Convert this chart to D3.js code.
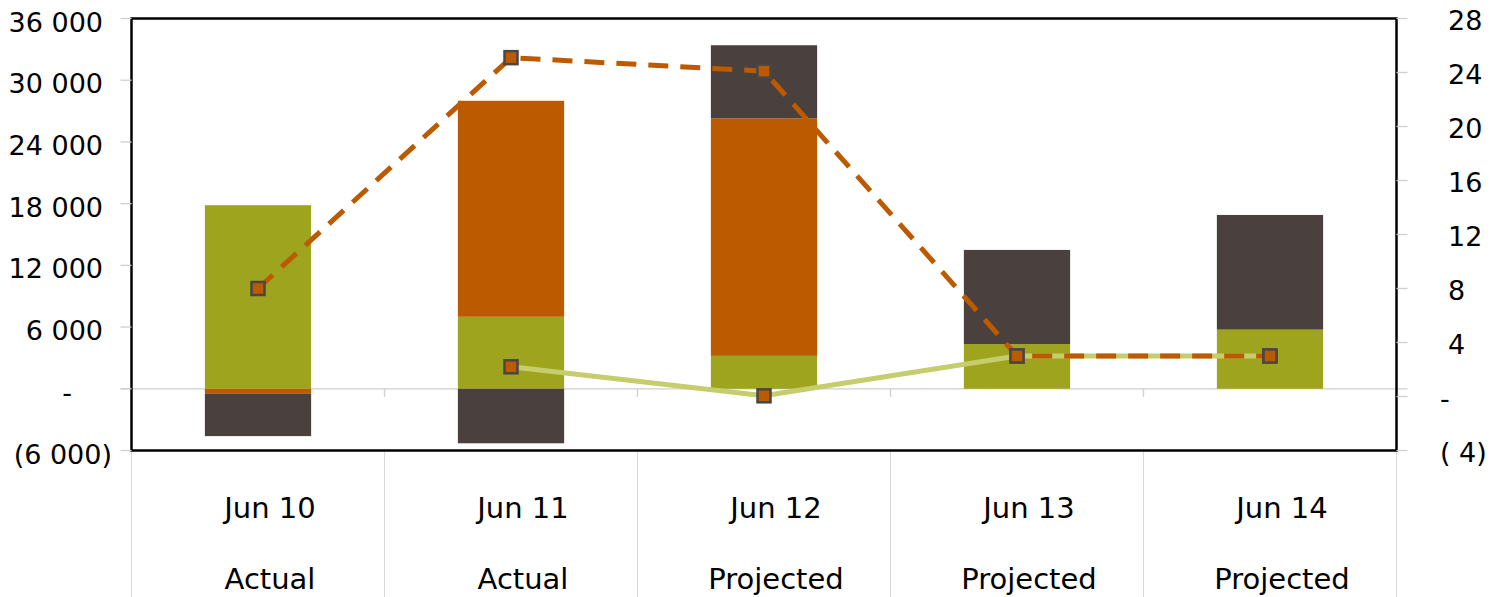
<!DOCTYPE html>
<html>
<head>
<meta charset="utf-8">
<script src="https://cdn.jsdelivr.net/npm/d3@7"></script>
<style>
  html, body { margin: 0; padding: 0; background: #fff; }
  svg { display: block; font-family: "DejaVu Sans", sans-serif; }
</style>
</head>
<body>
<svg id="chart" width="1491" height="597"></svg>
<script>
// ---- data ----
const categories = ["Jun 10", "Jun 11", "Jun 12", "Jun 13", "Jun 14"];
const subLabels = ["Actual", "Actual", "Projected", "Projected", "Projected"];
const greenBar = [17850, 7000, 3200, 4350, 5750];
const orangeBar = [-450, 21000, 23100, 0, 0];
const darkBar = [-4150, -5300, 7100, 9150, 11150];
const orangeLine = [8, 25.1, 24.1, 3.0, 3.0];
const greenLine = [null, 2.2, 0.05, 3.0, 3.0];
const leftTicks = [-6000, 0, 6000, 12000, 18000, 24000, 30000, 36000];
const rightTicks = [-4, 0, 4, 8, 12, 16, 20, 24, 28];

// ---- layout ----
const svg = d3.select("#chart");
const X0 = 131.5, X1 = 1396.5, Y0 = 18.5, Y1 = 450.5;
const colors = { green: "#9fa41e", orange: "#bc5a00", dark: "#4a403e", lightGreen: "#c5cd6c", marker: "#4a4646" };

const x = d3.scaleBand().domain(categories).range([X0, X1]).padding(0);
const yL = d3.scaleLinear().domain([-6000, 36000]).range([Y1, Y0]);
const yR = d3.scaleLinear().domain([-4, 28]).range([Y1, Y0]);
const barW = x.bandwidth() * 0.42;

// category separators below plot
const bounds = categories.map(c => x(c)).concat([X1]);
svg.append("g").selectAll("line").data(bounds).join("line")
  .attr("x1", d => d).attr("x2", d => d)
  .attr("y1", Y1).attr("y2", 597)
  .attr("stroke", "#d9d9d9").attr("stroke-width", 1);

// category axis at zero
svg.append("line")
  .attr("x1", X0 - 11).attr("x2", X1 + 11)
  .attr("y1", yL(0)).attr("y2", yL(0))
  .attr("stroke", "#cfcfcf").attr("stroke-width", 1.3);
svg.append("g").selectAll("line").data(bounds.slice(1, -1)).join("line")
  .attr("x1", d => d).attr("x2", d => d)
  .attr("y1", yL(0)).attr("y2", yL(0) + 8)
  .attr("stroke", "#cfcfcf").attr("stroke-width", 1.3);

// stacked bars
const rows = categories.map((c, i) => ({ cat: c, green: greenBar[i], orange: orangeBar[i], dark: darkBar[i] }));
const keys = ["green", "orange", "dark"];
const stacked = d3.stack().keys(keys).offset(d3.stackOffsetDiverging)(rows);
svg.append("g").selectAll("g").data(stacked).join("g")
  .attr("fill", d => colors[d.key])
  .selectAll("rect").data(d => d).join("rect")
  .attr("x", d => x(d.data.cat) + x.bandwidth() / 2 - barW / 2)
  .attr("width", barW)
  .attr("y", d => yL(Math.max(d[0], d[1])))
  .attr("height", d => Math.abs(yL(d[0]) - yL(d[1])));

// lines
const cx = c => x(c) + x.bandwidth() / 2;
const gData = categories.map((c, i) => ({ c, v: greenLine[i] })).filter(d => d.v !== null);
const oData = categories.map((c, i) => ({ c, v: orangeLine[i] })).filter(d => d.v !== null);
const line = d3.line().x(d => cx(d.c)).y(d => yR(d.v));
svg.append("path").datum(gData).attr("d", line)
  .attr("fill", "none").attr("stroke", colors.lightGreen).attr("stroke-width", 5);
svg.append("path").datum(oData).attr("d", line)
  .attr("fill", "none").attr("stroke", colors.orange).attr("stroke-width", 5)
  .attr("stroke-dasharray", "20,12");

// markers
const ms = 13;
const allPts = gData.concat(oData);
svg.append("g").selectAll("rect").data(allPts).join("rect")
  .attr("x", d => cx(d.c) - ms / 2).attr("y", d => yR(d.v) - ms / 2)
  .attr("width", ms).attr("height", ms)
  .attr("fill", colors.orange).attr("stroke", colors.marker).attr("stroke-width", 2.5);

// frame
svg.append("rect").attr("x", X0).attr("y", Y0).attr("width", X1 - X0).attr("height", Y1 - Y0)
  .attr("fill", "none").attr("stroke", "#000").attr("stroke-width", 2.5);

// left axis
const lg = svg.append("g");
lg.selectAll("line").data(leftTicks).join("line")
  .attr("x1", X0 - 11).attr("x2", X0).attr("y1", d => yL(d)).attr("y2", d => yL(d))
  .attr("stroke", "#cfcfcf").attr("stroke-width", 1.3);
const fmtL = v => {
  const s = d3.format(",")(Math.abs(v)).replace(/,/g, " ");
  if (v === 0) return "-";
  return v < 0 ? "(" + s + ")" : s;
};
lg.selectAll("text").data(leftTicks).join("text")
  .attr("x", d => d === 0 ? 72 : (d < 0 ? 112 : 103))
  .attr("y", d => yL(d) + 13)
  .attr("text-anchor", "end")
  .attr("font-size", 27).attr("fill", "#000")
  .text(fmtL);

// right axis
const rg = svg.append("g");
rg.selectAll("line").data(rightTicks).join("line")
  .attr("x1", X1).attr("x2", X1 + 11).attr("y1", d => yR(d)).attr("y2", d => yR(d))
  .attr("stroke", "#cfcfcf").attr("stroke-width", 1.3);
const fmtR = v => v === 0 ? "-" : (v < 0 ? "( " + Math.abs(v) + ")" : String(v));
rg.selectAll("text").data(rightTicks).join("text")
  .attr("x", d => d <= 0 ? 1440 : 1448)
  .attr("y", d => yR(d) + 11)
  .attr("text-anchor", "start")
  .attr("font-size", 27).attr("fill", "#000")
  .text(fmtR);

// category labels
const cg = svg.append("g");
cg.selectAll("text.cat").data(categories).join("text").attr("class", "cat")
  .attr("x", d => cx(d) + 12).attr("y", 518)
  .attr("text-anchor", "middle").attr("font-size", 29).attr("fill", "#000")
  .text(d => d);
cg.selectAll("text.sub").data(categories).join("text").attr("class", "sub")
  .attr("x", d => cx(d) + 12).attr("y", 589)
  .attr("text-anchor", "middle").attr("font-size", 29).attr("fill", "#000")
  .text((d, i) => subLabels[i]);
</script>
</body>
</html>
